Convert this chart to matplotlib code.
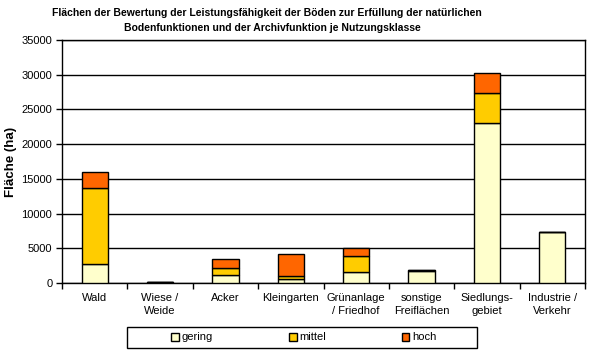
import matplotlib
matplotlib.use("Agg")
import matplotlib.pyplot as plt
import numpy as np
from matplotlib.patches import Rectangle

categories = ["Wald", "Wiese /\nWeide", "Acker", "Kleingarten", "Grünanlage\n/ Friedhof",
              "sonstige\nFreiflächen", "Siedlungs-\ngebiet", "Industrie /\nVerkehr"]
gering = [2740, 150, 1150, 530, 1580, 1800, 23100, 7300]
mittel = [10950, 30, 1050, 520, 2310, 70, 4320, 0]
hoch = [2260, 20, 1200, 3170, 1200, 50, 2880, 0]
series_names = ["gering", "mittel", "hoch"]
colors = ["#FFFFCC", "#FFCC00", "#FF6600"]
yticks = [0, 5000, 10000, 15000, 20000, 25000, 30000, 35000]

plt.rcParams['font.family'] = ['Liberation Sans', 'DejaVu Sans']

W, H = 595, 350
fig = plt.figure(figsize=(W / 100, H / 100), dpi=100)
ax = fig.add_axes([62 / W, 1 - 283 / H, (585 - 62) / W, (283 - 40) / H])

x = np.arange(len(categories))
bottom = np.zeros(len(categories))
handles = []
for vals, name, col in zip([gering, mittel, hoch], series_names, colors):
    v = np.array(vals, dtype=float)
    b = ax.bar(x, v, bottom=bottom, width=0.4, color=col, edgecolor="black",
               linewidth=1.0, label=name, zorder=3)
    handles.append(b)
    bottom += v

ax.set_xlim(-0.5, len(categories) - 0.5)
ax.set_ylim(0, 35000)
ax.set_yticks(yticks)
ax.set_yticklabels([str(t) for t in yticks], fontsize=8)
ax.yaxis.grid(True, color="black", linewidth=1.0, zorder=0)
ax.set_axisbelow(True)

ax.set_xticks(x)
ax.set_xticklabels(categories, fontsize=8, linespacing=1.45, va="top")
ax.tick_params(axis="x", which="major", length=0, pad=7)
ax.set_xticks(np.arange(len(categories) + 1) - 0.5, minor=True)
ax.tick_params(axis="x", which="minor", length=4, width=1, direction="out")
ax.tick_params(axis="y", length=4, width=1, direction="out", pad=3)

for s in ax.spines.values():
    s.set_color("black")
    s.set_linewidth(1.0)

ax.set_ylabel("Fläche (ha)", fontsize=9.5, fontweight="bold", labelpad=3)

fig.text(267 / W, 1 - 13 / H,
         "Flächen der Bewertung der Leistungsfähigkeit der Böden zur Erfüllung der natürlichen",
         ha="center", va="center", fontsize=7.5, fontweight="bold",
         family=["Liberation Sans Narrow", "Liberation Sans"])
fig.text(272 / W, 1 - 28 / H,
         "Bodenfunktionen und der Archivfunktion je Nutzungsklasse",
         ha="center", va="center", fontsize=7.5, fontweight="bold",
         family=["Liberation Sans Narrow", "Liberation Sans"])

# legend box
fig.patches.append(Rectangle((127 / W, 1 - 348 / H), 350 / W, 21 / H,
                             transform=fig.transFigure, facecolor="white",
                             edgecolor="black", linewidth=1.0))
leg = fig.legend(handles=handles, labels=series_names, loc="center",
                 bbox_to_anchor=(304 / W, 1 - 337.5 / H), ncol=3, frameon=False,
                 fontsize=8, handlelength=0.7, handleheight=0.7,
                 handletextpad=0.25, columnspacing=6.8)

fig.savefig("out.png", dpi=100, facecolor="white")
